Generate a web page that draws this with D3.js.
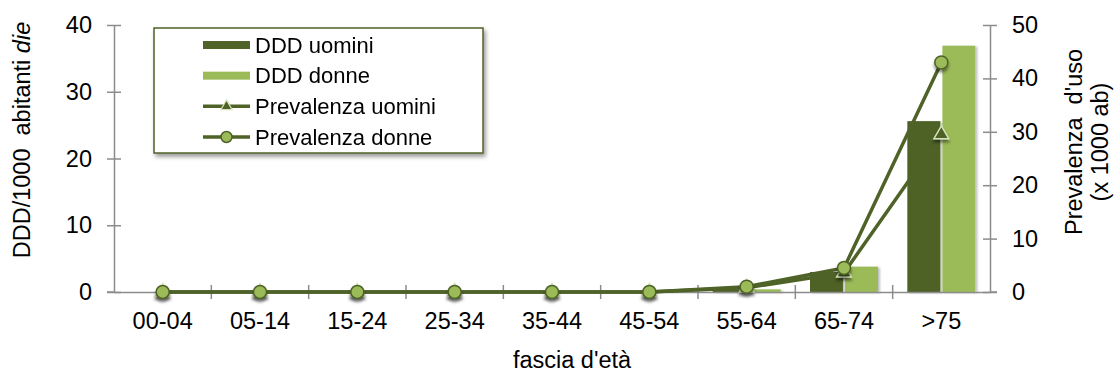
<!DOCTYPE html>
<html>
<head>
<meta charset="utf-8">
<script src="https://cdn.jsdelivr.net/npm/d3@7"></script>
<style>
  html, body { margin: 0; padding: 0; background: #fff; }
  svg { display: block; font-family: Arial, "Liberation Sans", sans-serif; }
</style>
</head>
<body>
<svg id="chart" width="1116" height="376"></svg>
<script>
// Age groups and series
const categories = ["00-04", "05-14", "15-24", "25-34", "35-44", "45-54", "55-64", "65-74", ">75"];
const dddUomini  = [0, 0, 0, 0, 0, 0, 0.3, 3.0, 25.6];
const dddDonne   = [0, 0, 0, 0, 0, 0, 0.4, 3.8, 36.9];
const prevUomini = [0, 0, 0, 0, 0, 0, 0.8, 3.6, 29.5];
const prevDonne  = [0, 0, 0, 0, 0, 0, 1.0, 4.5, 43.0];
const leftTicks  = [0, 10, 20, 30, 40];
const rightTicks = [0, 10, 20, 30, 40, 50];

const DARK = "#4F6228", LIGHT = "#9BBB59", AXIS = "#8C8C8C";
const FS = 23.5;

const svg = d3.select("#chart");
const defs = svg.append("defs");
defs.append("filter").attr("id", "mshadow").attr("x", "-50%").attr("y", "-50%").attr("width", "200%").attr("height", "200%")
  .append("feDropShadow").attr("dx", 0).attr("dy", 3).attr("stdDeviation", 1.6)
  .attr("flood-color", "#000").attr("flood-opacity", 0.45);
defs.append("filter").attr("id", "bshadow").attr("x", "-20%").attr("y", "-10%").attr("width", "140%").attr("height", "120%")
  .append("feDropShadow").attr("dx", 2).attr("dy", 1).attr("stdDeviation", 1.2)
  .attr("flood-color", "#000").attr("flood-opacity", 0.25);
defs.append("filter").attr("id", "lshadow").attr("x", "-10%").attr("y", "-10%").attr("width", "120%").attr("height", "130%")
  .append("feDropShadow").attr("dx", 2).attr("dy", 3).attr("stdDeviation", 2)
  .attr("flood-color", "#000").attr("flood-opacity", 0.4);

const plot = { left: 114, right: 990, top: 25, bottom: 292 };

const x = d3.scaleBand().domain(categories).range([plot.left, plot.right]).paddingInner(0).paddingOuter(0);
const xSub = d3.scaleBand().domain(["u", "d"]).range([-34, 34]).paddingInner(0.06);
const yL = d3.scaleLinear().domain([0, 40]).range([plot.bottom, plot.top]);
const yR = d3.scaleLinear().domain([0, 50]).range([plot.bottom, plot.top]);

// Bars (DDD)
const bars = svg.append("g").attr("filter", "url(#bshadow)");
[["u", dddUomini, DARK], ["d", dddDonne, LIGHT]].forEach(([key, vals, col]) => {
  bars.selectAll(null).data(vals).enter().append("rect")
    .attr("x", (d, i) => x(categories[i]) + x.bandwidth() / 2 + xSub(key))
    .attr("width", xSub.bandwidth())
    .attr("y", d => yL(d))
    .attr("height", d => yL(0) - yL(d))
    .attr("fill", col);
});

// Axes
const axisStyle = g => {
  g.selectAll(".domain").attr("stroke", AXIS).attr("stroke-width", 1.5);
  g.selectAll(".tick line").attr("stroke", AXIS).attr("stroke-width", 1.5);
  g.selectAll(".tick text").attr("fill", "#000").attr("font-size", FS).attr("font-family", "Arial, 'Liberation Sans', sans-serif");
};

const gL = svg.append("g").attr("transform", `translate(${plot.left},0)`)
  .call(d3.axisLeft(yL).tickValues(leftTicks).tickSize(0).tickPadding(22));
gL.call(axisStyle);
gL.selectAll(".tick").append("line").attr("x1", -7).attr("x2", 7).attr("stroke", AXIS).attr("stroke-width", 1.5);

const gR = svg.append("g").attr("transform", `translate(${plot.right},0)`)
  .call(d3.axisRight(yR).tickValues(rightTicks).tickSize(0).tickPadding(22));
gR.call(axisStyle);
gR.selectAll(".tick").append("line").attr("x1", -7).attr("x2", 7).attr("stroke", AXIS).attr("stroke-width", 1.5);

const gX = svg.append("g").attr("transform", `translate(0,${plot.bottom})`)
  .call(d3.axisBottom(x).tickSize(0).tickPadding(20));
gX.call(axisStyle);
gX.selectAll(".tick text").attr("dy", "0.71em");
// boundary tick marks between age groups
gX.selectAll(".bound").data(categories.slice(1)).enter().append("line")
  .attr("x1", d => x(d)).attr("x2", d => x(d)).attr("y1", -7).attr("y2", 7)
  .attr("stroke", AXIS).attr("stroke-width", 1.5);
gX.append("line").attr("x1", plot.left - 7).attr("x2", plot.left).attr("stroke", AXIS).attr("stroke-width", 1.5);
gX.append("line").attr("x1", plot.right).attr("x2", plot.right + 7).attr("stroke", AXIS).attr("stroke-width", 1.5);

// Prevalence lines
const cx = c => x(c) + x.bandwidth() / 2;
const line = d3.line().x((d, i) => cx(categories[i])).y(d => yR(d));
svg.append("path").datum(prevUomini).attr("d", line)
  .attr("fill", "none").attr("stroke", DARK).attr("stroke-width", 3.5).attr("stroke-linejoin", "round");
svg.append("path").datum(prevDonne).attr("d", line)
  .attr("fill", "none").attr("stroke", DARK).attr("stroke-width", 3.5).attr("stroke-linejoin", "round");

const tri = d3.symbol().type(d3.symbolTriangle).size(95);
svg.append("g").attr("filter", "url(#mshadow)").selectAll("path").data(prevUomini).enter().append("path")
  .attr("d", tri)
  .attr("transform", (d, i) => `translate(${cx(categories[i])},${yR(d)})`)
  .attr("fill", DARK).attr("stroke", "#D7E4BD").attr("stroke-width", 1.5);
svg.append("g").attr("filter", "url(#mshadow)").selectAll("circle").data(prevDonne).enter().append("circle")
  .attr("cx", (d, i) => cx(categories[i])).attr("cy", d => yR(d)).attr("r", 6.5)
  .attr("fill", LIGHT).attr("stroke", DARK).attr("stroke-width", 1.5);

// Axis titles
svg.append("text")
  .attr("transform", "translate(30,140) rotate(-90)")
  .attr("text-anchor", "middle").attr("font-size", FS).attr("fill", "#000")
  .call(t => {
    t.append("tspan").text("DDD/1000\u00A0\u00A0abitanti ");
    t.append("tspan").attr("font-style", "italic").text("die");
  });
const rt = svg.append("text")
  .attr("transform", "translate(1082,142) rotate(-90)")
  .attr("text-anchor", "middle").attr("font-size", FS).attr("fill", "#000");
rt.append("tspan").attr("x", 0).attr("dy", 0).text("Prevalenza\u00A0\u00A0d'uso");
rt.append("tspan").attr("x", 0).attr("dy", 26).text("(x 1000 ab)");

svg.append("text").attr("x", 572).attr("y", 368).attr("text-anchor", "middle")
  .attr("font-size", FS).attr("fill", "#000").text("fascia d'età");

// Legend
const leg = svg.append("g");
leg.append("rect").attr("x", 154).attr("y", 28).attr("width", 329).attr("height", 125)
  .attr("fill", "#fff").attr("stroke", DARK).attr("stroke-width", 1.5).attr("filter", "url(#lshadow)");
const items = [
  { label: "DDD uomini", kind: "bar", color: DARK },
  { label: "DDD donne", kind: "bar", color: LIGHT },
  { label: "Prevalenza uomini", kind: "tri" },
  { label: "Prevalenza donne", kind: "circle" }
];
const rowY = d3.scalePoint().domain(items.map(d => d.label)).range([45, 137]);
items.forEach(it => {
  const y = rowY(it.label);
  const g = leg.append("g").attr("transform", `translate(0,${y})`);
  if (it.kind === "bar") {
    g.append("rect").attr("x", 203).attr("y", -4).attr("width", 47).attr("height", 8).attr("fill", it.color);
  } else {
    g.append("line").attr("x1", 203).attr("x2", 250).attr("stroke", DARK).attr("stroke-width", 3.5);
    if (it.kind === "tri") {
      g.append("path").attr("d", d3.symbol().type(d3.symbolTriangle).size(55)).attr("transform", "translate(226.5,0)")
        .attr("fill", DARK).attr("stroke", "#D7E4BD").attr("stroke-width", 1.2);
    } else {
      g.append("circle").attr("cx", 226.5).attr("r", 5.5).attr("fill", LIGHT).attr("stroke", DARK).attr("stroke-width", 1.5);
    }
  }
  g.append("text").attr("x", 255).attr("y", 0).attr("dy", "0.35em").attr("font-size", 22).attr("fill", "#000").text(it.label);
});
</script>
</body>
</html>
